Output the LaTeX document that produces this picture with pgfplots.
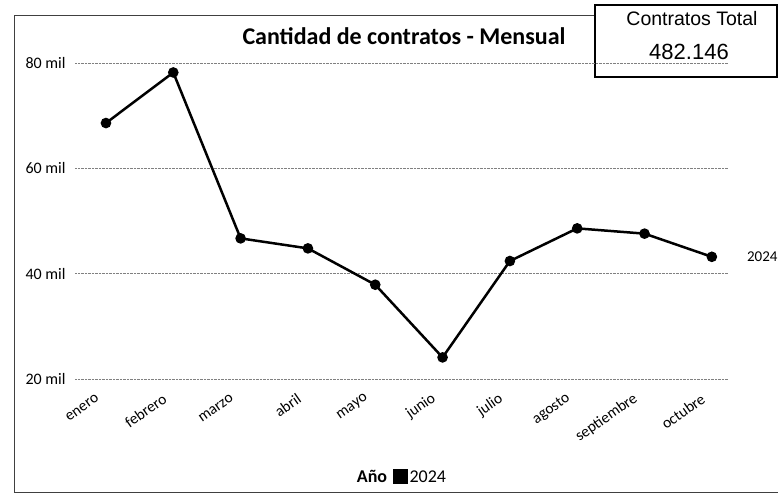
\documentclass[border=0pt]{standalone}
\usepackage{pgfplots}
\pgfplotsset{compat=1.18}
\usepackage{fontspec}
\setmainfont{Carlito}
\newfontfamily\arialf{Liberation Sans}
\begin{document}
\begin{tikzpicture}[x=1pt,y=1pt]
\path[use as bounding box] (0,0) rectangle (778,502);
% outer frame
\draw[line width=1pt, black!75] (595,486) -- (14,486) -- (14,9) -- (778,9);
% total box
\draw[line width=1.2pt, black] (595,425) rectangle (777,497);
\node[font=\arialf\fontsize{19.5}{21}\selectfont] at (692,483) {Contratos Total};
\node[font=\arialf\fontsize{22}{24}\selectfont] at (689,450) {482.146};
% title
\node[font=\bfseries\fontsize{24}{26}\selectfont] at (404,466) {Cantidad de contratos - Mensual};
\begin{axis}[
  at={(75pt,123pt)}, anchor=south west,
  scale only axis, width=653pt, height=316pt,
  xmin=-0.46, xmax=9.24, ymin=20000, ymax=80000,
  xtick={0,...,9},
  xticklabels={enero,febrero,marzo,abril,mayo,junio,julio,agosto,septiembre,octubre},
  ytick={20000,40000,60000,80000},
  yticklabels={20 mil,40 mil,60 mil,80 mil},
  scaled y ticks=false,
  ymajorgrids, grid style={densely dotted, black!50, line width=0.8pt},
  axis line style={draw=none}, tick style={draw=none},
  xticklabel style={rotate=35, anchor=east, xshift=-14pt, yshift=-10pt, font=\fontsize{15.5}{17}\selectfont},
  yticklabel style={font=\fontsize{16}{18}\selectfont, xshift=-6pt},
  clip=false,
  legend style={at={(0.5,-0.31)}, anchor=center, draw=none, font=\fontsize{18}{20}\selectfont, legend columns=2, /tikz/every even column/.append style={column sep=4pt}},
  legend cell align=left,
]
\addlegendimage{empty legend}
\addlegendentry{\textbf{Año}}
\addplot[black, line width=2.5pt, mark=*, mark size=4pt,
  legend image code/.code={\fill[black] (0.15cm,-0.2cm) rectangle (0.57cm,0.22cm);}]
  coordinates {(0,68600) (1,78200) (2,46700) (3,44800) (4,37900) (5,24100) (6,42400) (7,48600) (8,47600) (9,43200)};
\addlegendentry{2024}
\node[anchor=west, inner sep=1pt, font=\fontsize{15}{17}\selectfont] at (axis cs:9,43200) [xshift=34pt] {2024};
\end{axis}
\end{tikzpicture}
\end{document}
